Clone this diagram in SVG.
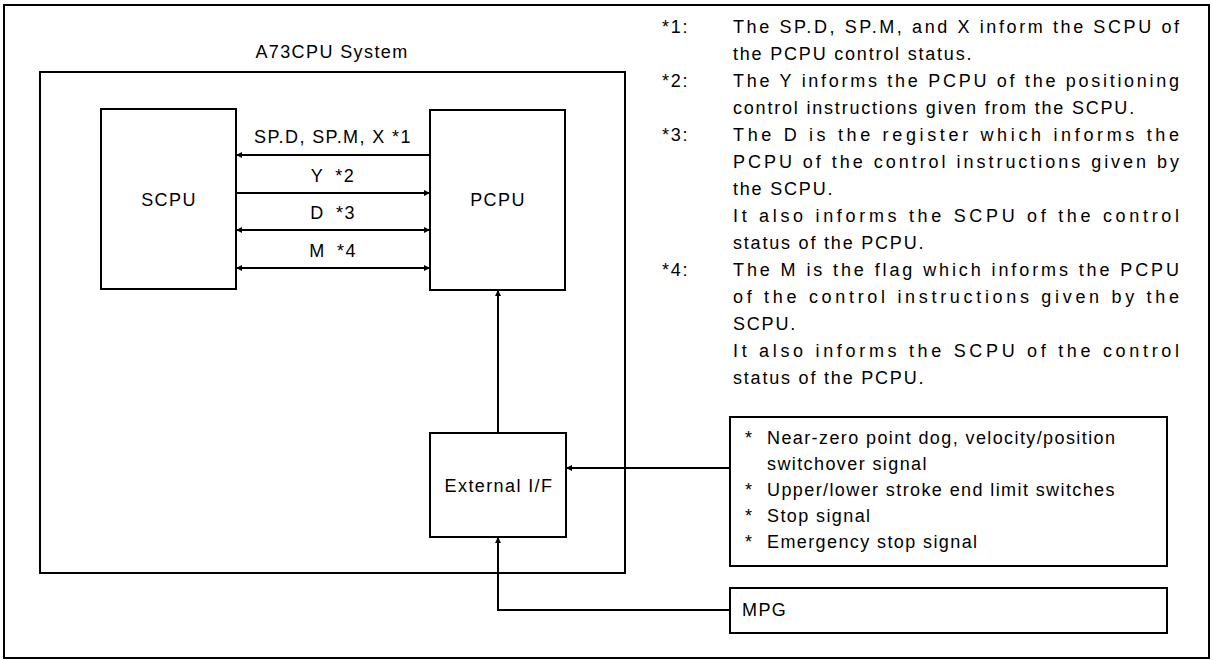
<svg xmlns="http://www.w3.org/2000/svg" width="1212" height="660" viewBox="0 0 1212 660">
<style>
.box{fill:none;stroke:#000;stroke-width:2}
.ln{fill:none;stroke:#000;stroke-width:2}
text{font-family:"Liberation Sans",Arial,sans-serif;font-size:18px;fill:#000}
.sp{letter-spacing:1.4px}
.nt{letter-spacing:1.8px}
.mid{text-anchor:middle}
</style>
<defs>
<marker id="ah" viewBox="0 0 10 10" refX="10" refY="5" markerWidth="8" markerHeight="6" markerUnits="userSpaceOnUse" orient="auto-start-reverse">
<path d="M0,0 L10,5 L0,10 z" fill="#000"/>
</marker>
</defs>
<rect x="4" y="5" width="1205" height="653" class="box"/>
<g id="system">
<rect x="40" y="72" width="585" height="501" class="box"/>
<text x="332" y="58" class="mid sp">A73CPU System</text>
</g>
<g id="scpu">
<rect x="101" y="109" width="135" height="180" class="box"/>
<text x="169" y="206" class="mid sp">SCPU</text>
</g>
<g id="pcpu">
<rect x="430" y="110" width="135" height="180" class="box"/>
<text x="498" y="206" class="mid sp">PCPU</text>
</g>
<g id="extif">
<rect x="430" y="433" width="136" height="104" class="box"/>
<text x="499" y="492" class="mid sp">External I/F</text>
</g>
<g id="signals">
<rect x="730" y="417" width="437" height="149" class="box"/>
<text x="745" y="444">*</text><text x="767" y="444" class="sp">Near-zero point dog, velocity/position</text>
<text x="767" y="470" class="sp">switchover signal</text>
<text x="745" y="496">*</text><text x="767" y="496" class="sp">Upper/lower stroke end limit switches</text>
<text x="745" y="522">*</text><text x="767" y="522" class="sp">Stop signal</text>
<text x="745" y="548">*</text><text x="767" y="548" class="sp">Emergency stop signal</text>
</g>
<g id="mpg">
<rect x="730" y="588" width="437" height="45" class="box"/>
<text x="742" y="616" class="sp">MPG</text>
</g>
<g id="connectors">
<line x1="430" y1="155" x2="236" y2="155" class="ln" marker-end="url(#ah)"/>
<line x1="236" y1="193" x2="430" y2="193" class="ln" marker-end="url(#ah)"/>
<line x1="236" y1="230" x2="430" y2="230" class="ln" marker-start="url(#ah)" marker-end="url(#ah)"/>
<line x1="236" y1="268" x2="430" y2="268" class="ln" marker-start="url(#ah)" marker-end="url(#ah)"/>
<text x="333" y="143" class="mid sp">SP.D, SP.M, X *1</text>
<text x="333" y="182" class="mid sp" style="word-spacing:5px">Y *2</text>
<text x="333" y="219" class="mid sp" style="word-spacing:5px">D *3</text>
<text x="333" y="257" class="mid sp" style="word-spacing:5px">M *4</text>
<line x1="498" y1="433" x2="498" y2="290" class="ln" marker-end="url(#ah)"/>
<line x1="730" y1="468" x2="566" y2="468" class="ln" marker-end="url(#ah)"/>
<polyline points="730,610 498,610 498,537" class="ln" marker-end="url(#ah)"/>
</g>
<g id="notes">
<text x="662" y="33" class="nt">*1:</text>
<text x="733" y="33" textLength="446" lengthAdjust="spacing">The SP.D, SP.M, and X inform the SCPU of</text>
<text x="733" y="60" class="nt">the PCPU control status.</text>
<text x="662" y="87" class="nt">*2:</text>
<text x="733" y="87" textLength="446" lengthAdjust="spacing">The Y informs the PCPU of the positioning</text>
<text x="733" y="114" class="nt">control instructions given from the SCPU.</text>
<text x="662" y="141" class="nt">*3:</text>
<text x="733" y="141" textLength="446" lengthAdjust="spacing">The D is the register which informs the</text>
<text x="733" y="168" textLength="446" lengthAdjust="spacing">PCPU of the control instructions given by</text>
<text x="733" y="195" class="nt">the SCPU.</text>
<text x="733" y="222" textLength="446" lengthAdjust="spacing">It also informs the SCPU of the control</text>
<text x="733" y="249" class="nt">status of the PCPU.</text>
<text x="662" y="276" class="nt">*4:</text>
<text x="733" y="276" textLength="446" lengthAdjust="spacing">The M is the flag which informs the PCPU</text>
<text x="733" y="303" textLength="446" lengthAdjust="spacing">of the control instructions given by the</text>
<text x="733" y="330" class="nt">SCPU.</text>
<text x="733" y="357" textLength="446" lengthAdjust="spacing">It also informs the SCPU of the control</text>
<text x="733" y="384" class="nt">status of the PCPU.</text>
</g>
</svg>
